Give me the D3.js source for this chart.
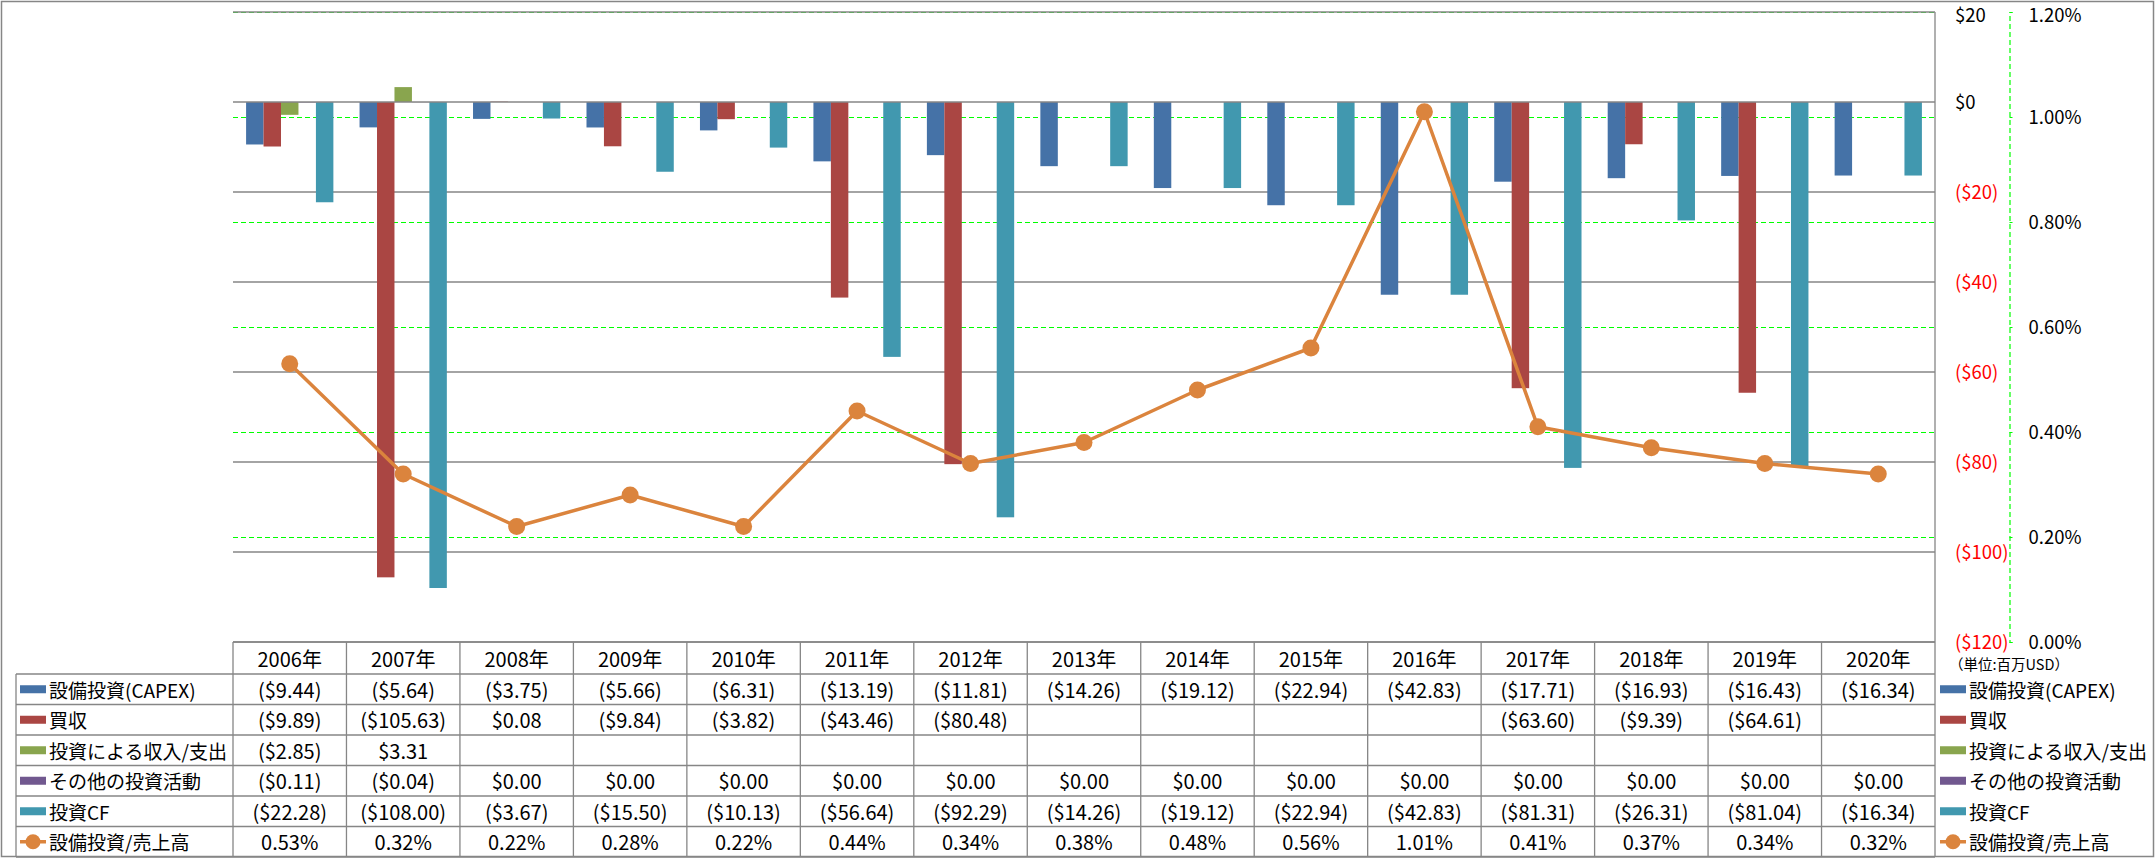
<!DOCTYPE html>
<html>
<head>
<meta charset="utf-8">
<script src="https://cdn.jsdelivr.net/npm/d3@7"></script>
<style>
  html, body { margin: 0; padding: 0; background: #ffffff; }
  svg { display: block; }
</style>
</head>
<body>
<svg id="chart" width="2156" height="858"></svg>
<script>
// ---------------- data ----------------
const years = ["2006年","2007年","2008年","2009年","2010年","2011年","2012年","2013年","2014年","2015年","2016年","2017年","2018年","2019年","2020年"];
const seriesNames = ["設備投資(CAPEX)","買収","投資による収入/支出","その他の投資活動","投資CF"];
const lineName = "設備投資/売上高";
const capex        = [-9.44,-5.64,-3.75,-5.66,-6.31,-13.19,-11.81,-14.26,-19.12,-22.94,-42.83,-17.71,-16.93,-16.43,-16.34];
const acquisition  = [-9.89,-105.63,0.08,-9.84,-3.82,-43.46,-80.48,null,null,null,null,-63.60,-9.39,-64.61,null];
const investIncome = [-2.85,3.31,null,null,null,null,null,null,null,null,null,null,null,null,null];
const otherInvest  = [-0.11,-0.04,0,0,0,0,0,0,0,0,0,0,0,0,0];
const investCF     = [-22.28,-108.00,-3.67,-15.50,-10.13,-56.64,-92.29,-14.26,-19.12,-22.94,-42.83,-81.31,-26.31,-81.04,-16.34];
const capexRatio   = [0.53,0.32,0.22,0.28,0.22,0.44,0.34,0.38,0.48,0.56,1.01,0.41,0.37,0.34,0.32];
const leftTicks  = [20,0,-20,-40,-60,-80,-100,-120];
const rightTicks = [1.2,1.0,0.8,0.6,0.4,0.2,0.0];
const unitLabel = "（単位:百万USD）";

const seriesValues = [capex, acquisition, investIncome, otherInvest, investCF];
const colors = ["#4572A7","#AA4643","#89A54E","#71588F","#4198AF"];
const lineColor = "#DB843D";
const gridGray = "#868686";
const FONT = "'Liberation Sans Narrow','Noto Sans CJK JP',sans-serif";

// ---------------- layout ----------------
const svg = d3.select("#chart");
const plotL = 233, plotR = 1935, plotT = 12, plotB = 642;
const headerH = 32, rowH = 30.5, legendColL = 16;

const x = d3.scaleBand().domain(years).range([plotL, plotR]).paddingInner(0).paddingOuter(0);
const xs = d3.scaleBand().domain(d3.range(seriesNames.length)).range([0, x.bandwidth()]).paddingInner(0).paddingOuter(0.75);
const y = d3.scaleLinear().domain([-120, 20]).range([plotB, plotT]);
const y2 = d3.scaleLinear().domain([0, 1.2]).range([plotB, plotT]);

// outer border
svg.append("rect").attr("x",1.5).attr("y",1.5).attr("width",2152).attr("height",855)
  .attr("fill","none").attr("stroke",gridGray).attr("stroke-width",1.5);

// secondary gridlines (green dashed)
svg.append("g").selectAll("line").data(rightTicks.filter(d => d > 0)).join("line")
  .attr("x1", plotL).attr("x2", plotR)
  .attr("y1", d => Math.round(y2(d)) + 0.5).attr("y2", d => Math.round(y2(d)) + 0.5)
  .attr("stroke", "#00FF00").attr("stroke-width", 1.2).attr("stroke-dasharray", "5,3");

// primary gridlines (gray)
svg.append("g").selectAll("line").data(leftTicks.filter(d => d !== 0)).join("line")
  .attr("x1", plotL).attr("x2", plotR)
  .attr("y1", d => y(d)).attr("y2", d => y(d))
  .attr("stroke", gridGray).attr("stroke-width", 1.3);

// plot right border
svg.append("line").attr("x1", plotR).attr("x2", plotR).attr("y1", plotT).attr("y2", plotB)
  .attr("stroke", gridGray).attr("stroke-width", 1.3);

// bars
const barData = [];
seriesValues.forEach((arr, si) => arr.forEach((v, i) => {
  if (v !== null) barData.push({si, year: years[i], v});
}));
svg.append("g").selectAll("rect").data(barData).join("rect")
  .attr("x", d => x(d.year) + xs(d.si))
  .attr("width", xs.bandwidth())
  .attr("y", d => Math.min(y(d.v), y(0)))
  .attr("height", d => Math.abs(y(d.v) - y(0)))
  .attr("fill", d => colors[d.si]);

// zero line on top
svg.append("line").attr("x1", plotL).attr("x2", plotR).attr("y1", y(0)).attr("y2", y(0))
  .attr("stroke", gridGray).attr("stroke-width", 1.3);

// line series
const lineGen = d3.line().x((d, i) => x(years[i]) + x.bandwidth() / 2).y(d => y2(d));
svg.append("path").datum(capexRatio).attr("d", lineGen)
  .attr("fill","none").attr("stroke", lineColor).attr("stroke-width", 3.5).attr("stroke-linejoin","round");
svg.append("g").selectAll("circle").data(capexRatio).join("circle")
  .attr("cx", (d, i) => x(years[i]) + x.bandwidth() / 2)
  .attr("cy", d => y2(d)).attr("r", 8.5).attr("fill", lineColor);

// primary axis (right side of plot)
const fmtMoney = v => v < 0 ? "($" + Math.abs(v) + ")" : "$" + v;
const axL = svg.append("g").attr("transform", `translate(${plotR},0)`)
  .call(d3.axisRight(y).tickValues(leftTicks).tickSize(0).tickPadding(20).tickFormat(fmtMoney));
axL.select(".domain").remove();
axL.selectAll("text").attr("font-family", FONT).attr("font-size", 18.5)
  .attr("fill", d => d < 0 ? "#FF0000" : "#000000").attr("dy", d => d === 20 ? "0.5em" : "0.35em");

// secondary axis
const axR = svg.append("g").attr("transform", `translate(2009.5,0)`)
  .call(d3.axisRight(y2).tickValues(rightTicks).tickSize(3).tickSizeOuter(3).tickPadding(16)
    .tickFormat(d => d.toFixed(2) + "%"));
axR.select(".domain").attr("stroke", "#00FF00").attr("stroke-dasharray", "5,3").attr("stroke-width", 1.2);
axR.selectAll(".tick line").attr("stroke", "#00FF00");
axR.selectAll("text").attr("font-family", FONT).attr("font-size", 18.5).attr("fill", "#000")
  .attr("dy", d => d === 1.2 ? "0.5em" : "0.35em");

// unit label
svg.append("text").attr("x", 1949).attr("y", 663).attr("dominant-baseline","central")
  .attr("font-family", "'Noto Sans CJK JP',sans-serif").attr("font-size", 14.5).attr("fill","#000")
  .text(unitLabel);

// ---------------- data table ----------------
const tbl = svg.append("g");
const rowTop = i => plotB + headerH + i * rowH;
const nRows = 6;
const tableBottom = rowTop(nRows);
tbl.append("line").attr("x1", plotL).attr("x2", plotR).attr("y1", plotB).attr("y2", plotB)
  .attr("stroke", gridGray).attr("stroke-width", 1.3);
tbl.selectAll("line.h").data(d3.range(nRows + 1)).join("line").attr("class","h")
  .attr("x1", legendColL).attr("x2", plotR)
  .attr("y1", i => rowTop(i)).attr("y2", i => rowTop(i))
  .attr("stroke", gridGray).attr("stroke-width", 1.3);
tbl.selectAll("line.v").data(years.concat(["end"])).join("line").attr("class","v")
  .attr("x1", (d, i) => plotL + i * x.step()).attr("x2", (d, i) => plotL + i * x.step())
  .attr("y1", plotB).attr("y2", tableBottom)
  .attr("stroke", gridGray).attr("stroke-width", 1.3);
tbl.append("line").attr("x1", legendColL).attr("x2", legendColL).attr("y1", rowTop(0)).attr("y2", tableBottom)
  .attr("stroke", gridGray).attr("stroke-width", 1.3);

// header
tbl.selectAll("text.hd").data(years).join("text").attr("class","hd")
  .attr("x", d => x(d) + x.bandwidth() / 2).attr("y", plotB + headerH / 2)
  .attr("text-anchor","middle").attr("dominant-baseline","central")
  .attr("font-family", FONT).attr("font-size", 20).attr("fill","#000").text(d => d);

// cells
const fmtCell = v => v < 0 ? "($" + Math.abs(v).toFixed(2) + ")" : "$" + v.toFixed(2);
const cellRows = seriesValues.map(arr => arr.map(v => v === null ? "" : fmtCell(v)));
cellRows.push(capexRatio.map(v => v.toFixed(2) + "%"));
cellRows.forEach((row, ri) => {
  tbl.append("g").selectAll("text").data(row).join("text")
    .attr("x", (d, i) => x(years[i]) + x.bandwidth() / 2)
    .attr("y", rowTop(ri) + rowH / 2)
    .attr("text-anchor","middle").attr("dominant-baseline","central")
    .attr("font-family", FONT).attr("font-size", 20).attr("fill","#000").text(d => d);
});

// legend entries (left in table and right side)
const legendItems = seriesNames.map((n, i) => ({name: n, color: colors[i], line: false}))
  .concat([{name: lineName, color: lineColor, line: true}]);
function drawLegend(x0, textX) {
  const g = svg.append("g");
  legendItems.forEach((it, i) => {
    const cy = rowTop(i) + rowH / 2;
    if (it.line) {
      g.append("line").attr("x1", x0).attr("x2", x0 + 26).attr("y1", cy).attr("y2", cy)
        .attr("stroke", it.color).attr("stroke-width", 3.5);
      g.append("circle").attr("cx", x0 + 13).attr("cy", cy).attr("r", 7.5).attr("fill", it.color);
    } else {
      g.append("rect").attr("x", x0).attr("y", cy - 4).attr("width", 26).attr("height", 8).attr("fill", it.color);
    }
    g.append("text").attr("x", textX).attr("y", cy).attr("dominant-baseline","central")
      .attr("font-family", FONT).attr("font-size", 19).attr("fill","#000").text(it.name);
  });
}
drawLegend(20, 49);
drawLegend(1940, 1969);
</script>
</body>
</html>
